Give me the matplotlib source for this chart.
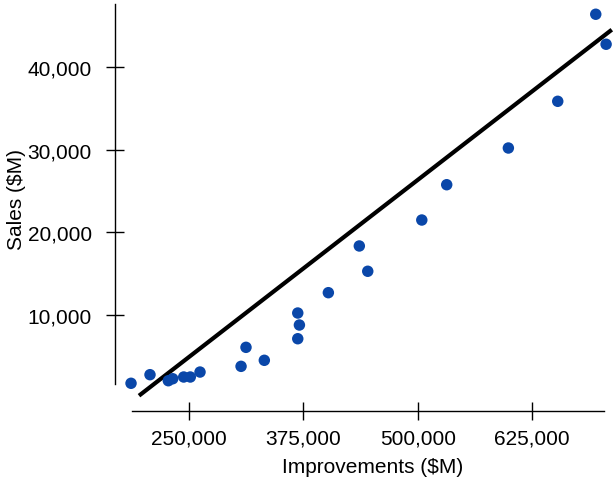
import matplotlib
matplotlib.use('Agg')
import matplotlib.pyplot as plt

# datos
mejoras = [187000, 207700, 227700, 232500, 244500, 251700, 262300, 307100,
           312500, 332500, 369000, 370800, 369000, 402400, 436200, 445400,
           504400, 531600, 598900, 652800, 694300, 705600]
ventas = [1740, 2780, 2050, 2290, 2500, 2500, 3100, 3790,
          6090, 4520, 10240, 8790, 7130, 12700, 18350, 15290,
          21490, 25760, 30200, 35850, 46380, 42750]

# recta ajustada (extremos)
recta_x = [195700, 711800]
recta_y = [240, 44510]

xticks = [250000, 375000, 500000, 625000]
yticks = [10000, 20000, 30000, 40000]

plt.rcParams['font.family'] = ['Liberation Sans Narrow', 'Liberation Sans', 'DejaVu Sans']

fig = plt.figure(figsize=(6.16, 4.89), dpi=100)
ax = fig.add_axes([115/616, (489-411.7)/489, (616-115)/616, 411.7/489])

ax.plot(recta_x, recta_y, color='black', linewidth=3, solid_capstyle='butt', zorder=2)
ax.scatter(mejoras, ventas, s=68, color='#0a47a9', edgecolors='none', zorder=3)

ax.set_xlim(169500, 716400)
ax.set_ylim(-1576, 48225)

for lado in ['top', 'right']:
  ax.spines[lado].set_visible(False)
ax.spines['left'].set_bounds(1650, 47620)
ax.spines['bottom'].set_bounds(188000, 703000)
for lado in ['left', 'bottom']:
  ax.spines[lado].set_linewidth(1.0)

ax.set_xticks(xticks)
ax.set_yticks(yticks)
ax.set_xticklabels([f'{v:,}' for v in xticks])
ax.set_yticklabels([f'{v:,}' for v in yticks])
ax.tick_params(direction='inout', length=13.5, width=1.0, labelsize=15)
ax.tick_params(axis='x', pad=6)
ax.tick_params(axis='y', pad=10)

ax.set_xlabel('Improvements ($M)', fontsize=15)
ax.set_ylabel('Sales ($M)', fontsize=15)
ax.xaxis.set_label_coords(0.515, -0.113)
ax.yaxis.set_label_coords(-0.178, 0.515)

fig.savefig('out.png', dpi=100)
